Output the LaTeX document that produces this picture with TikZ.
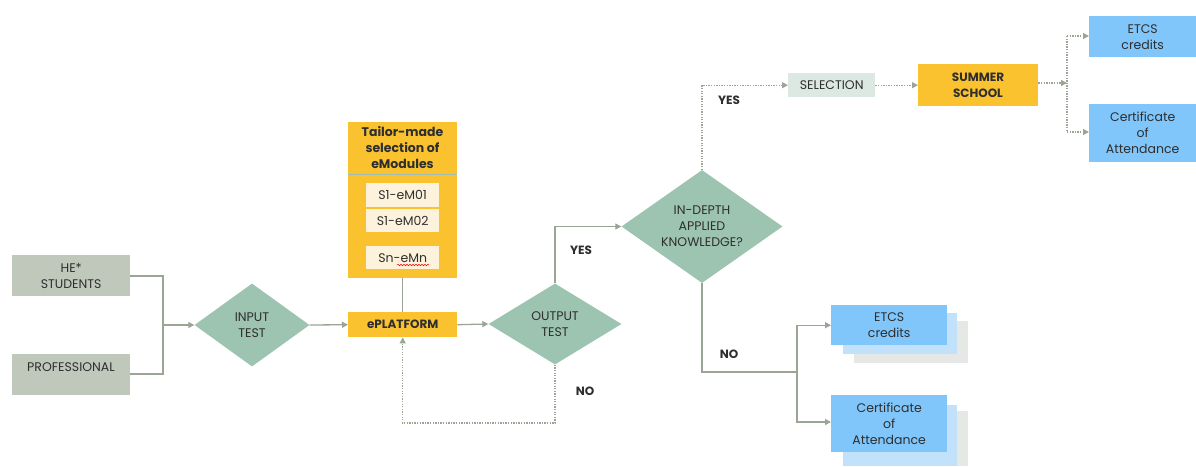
\documentclass[tikz,border=0pt]{standalone}
\usepackage{fontspec}
\setmainfont{Poppins}
\usetikzlibrary{arrows.meta,shapes.geometric,positioning,decorations.pathmorphing}
\definecolor{boxgray}{HTML}{C0C8BC}
\definecolor{dia}{HTML}{9DC3B1}
\definecolor{conn}{HTML}{9AA595}
\definecolor{yel}{HTML}{F9C22E}
\definecolor{cream}{HTML}{FDF3DC}
\definecolor{selc}{HTML}{DCE8E2}
\definecolor{blu}{HTML}{80C6FA}
\definecolor{blul}{HTML}{C2E2FB}
\definecolor{shad}{HTML}{E6E8E6}
\definecolor{txt}{HTML}{2E2E2E}
\definecolor{sepl}{HTML}{9DBDB5}
\tikzset{
  every node/.style={text=txt,font=\fontsize{12.5}{16}\selectfont,inner sep=0pt,align=center},
  rect/.style={draw=none,anchor=north west},
  dec/.style={diamond,fill=dia,draw=none},
  ln/.style={draw=conn,line width=1.3pt},
  arr/.style={ln,-{Triangle[length=6pt,width=6pt]}},
  dot/.style={draw=conn,line width=1.3pt,dash pattern=on 1.3pt off 1.3pt},
  darr/.style={dot,-{Triangle[length=6pt,width=6pt]}},
  lbl/.style={font=\fontsize{12}{16}\selectfont\bfseries}
}
\begin{document}
\begin{tikzpicture}[x=1pt,y=-1pt]
\useasboundingbox (0,0) rectangle (1196,466);
% left boxes
\node[rect,fill=boxgray,minimum width=118pt,minimum height=41pt] (stu) at (12,255) {};
\node at (stu.center) {HE*\\STUDENTS};
\node[rect,fill=boxgray,minimum width=118pt,minimum height=41pt] (pro) at (12,354) {};
\node at (71,367) (protxt) {PROFESSIONAL};
% input test
\node[dec,minimum width=115pt,minimum height=83pt,shape aspect=1.39] (in) at (252,325) {};
\node at (in.center) {INPUT\\TEST};
% tailor made
\node[rect,fill=yel,minimum width=109pt,minimum height=156pt] (tm) at (348,122) {};
\node[font=\fontsize{12.5}{16}\selectfont\bfseries] at (402.5,148) {Tailor-made\\selection of\\eModules};
\draw[sepl,line width=1pt] (348,174) -- (457,174);
\node[rect,fill=cream,minimum width=73pt,minimum height=24pt] (m1) at (366,183) {};
\node at (m1.center) {S1-eM01};
\node[rect,fill=cream,minimum width=73pt,minimum height=23pt] (m2) at (366,209) {};
\node at (m2.center) {S1-eM02};
\node[rect,fill=cream,minimum width=73pt,minimum height=23pt] (m3) at (366,246) {};
\node at (m3.center) (m3t) {Sn-eMn};
\coordinate (sq1) at (397,265);
\coordinate (sq2) at (429,265);
\draw[red,line width=0.5pt,decorate,decoration={snake,amplitude=0.8pt,segment length=3pt}] (sq1) -- (sq2);
% eplatform
\node[rect,fill=yel,minimum width=109pt,minimum height=25pt] (ep) at (348,312) {};
\node[lbl] at (ep.center) {ePLATFORM};
% output test
\node[dec,minimum width=133pt,minimum height=81pt,shape aspect=1.64] (out) at (555,324) {};
\node at (out.center) {OUTPUT\\TEST};
% in-depth
\node[dec,minimum width=161pt,minimum height=113pt,shape aspect=1.42] (ind) at (702,226.5) {};
\node at (ind.center) {IN-DEPTH\\APPLIED\\KNOWLEDGE?};
% selection
\node[rect,fill=selc,minimum width=87pt,minimum height=24pt] (sel) at (788,73) {};
\node at (sel.center) {SELECTION};
% summer school
\node[rect,fill=yel,minimum width=120pt,minimum height=42pt] (ss) at (918,64) {};
\node[lbl] at (978,85) {SUMMER\\SCHOOL};
% top right outputs
\node[rect,fill=blu,minimum width=107pt,minimum height=41pt] (e1) at (1089,16) {};
\node at (e1.center) {ETCS\\credits};
\node[rect,fill=blu,minimum width=107pt,minimum height=58pt] (c1) at (1089,104) {};
\node at (c1.center) {Certificate\\of\\Attendance};
% bottom outputs with stacked shadows
\node[rect,fill=shad,minimum width=114pt,minimum height=42pt] (e2b) at (854,321) {};
\node[rect,fill=blul,minimum width=114pt,minimum height=41pt] (e2a) at (843,313) {};
\node[rect,fill=blu,minimum width=116pt,minimum height=40pt] (e2) at (831,305) {};
\node at (e2.center) {ETCS\\credits};
\node[rect,fill=shad,minimum width=114pt,minimum height=55pt] (c2b) at (854,411) {};
\node[rect,fill=blul,minimum width=114pt,minimum height=61pt] (c2a) at (843,405) {};
\node[rect,fill=blu,minimum width=116pt,minimum height=57pt] (c2) at (831,395) {};
\node at (c2.center) {Certificate\\of\\Attendance};
% labels
\node[lbl] (yes1) at (581,250) {YES};
\node[lbl] (no1) at (585,391) {NO};
\node[lbl] (yes2) at (729,100) {YES};
\node[lbl] (no2) at (729,354) {NO};
% connectors
\coordinate (j1) at (163,325);
\draw[ln] (stu.east |- 0,276) -- (163,276) -- (163,374) -- (pro.east |- 0,374);
\draw[arr] (j1) -- (in.west);
\draw[arr] (in.east) -- (ep.west);
\draw[ln] (tm.south) -- (ep.north);
\draw[arr] (ep.east) -- (out.west);
\draw[arr] (out.north) |- (ind.west);
\draw[darr] (out.south) -- (555,423) -| (ep.south);
\draw[darr] (ind.north) |- (sel.west);
\draw[darr] (sel.east) -- (ss.west);
\coordinate (j2) at (1067,83);
\draw[darr] (ss.east |- j2) -- (j2);
\draw[darr] (1067,36) -- (e1.west |- 0,36);
\draw[darr] (1067,132) -- (c1.west |- 0,132);
\draw[dot] (1067,36) -- (1067,132);
\draw[ln] (ind.south) |- (797,372);
\draw[arr] (797,372) |- (e2.west);
\draw[arr] (797,372) |- (c2.west |- 0,422);
\end{tikzpicture}
\end{document}
